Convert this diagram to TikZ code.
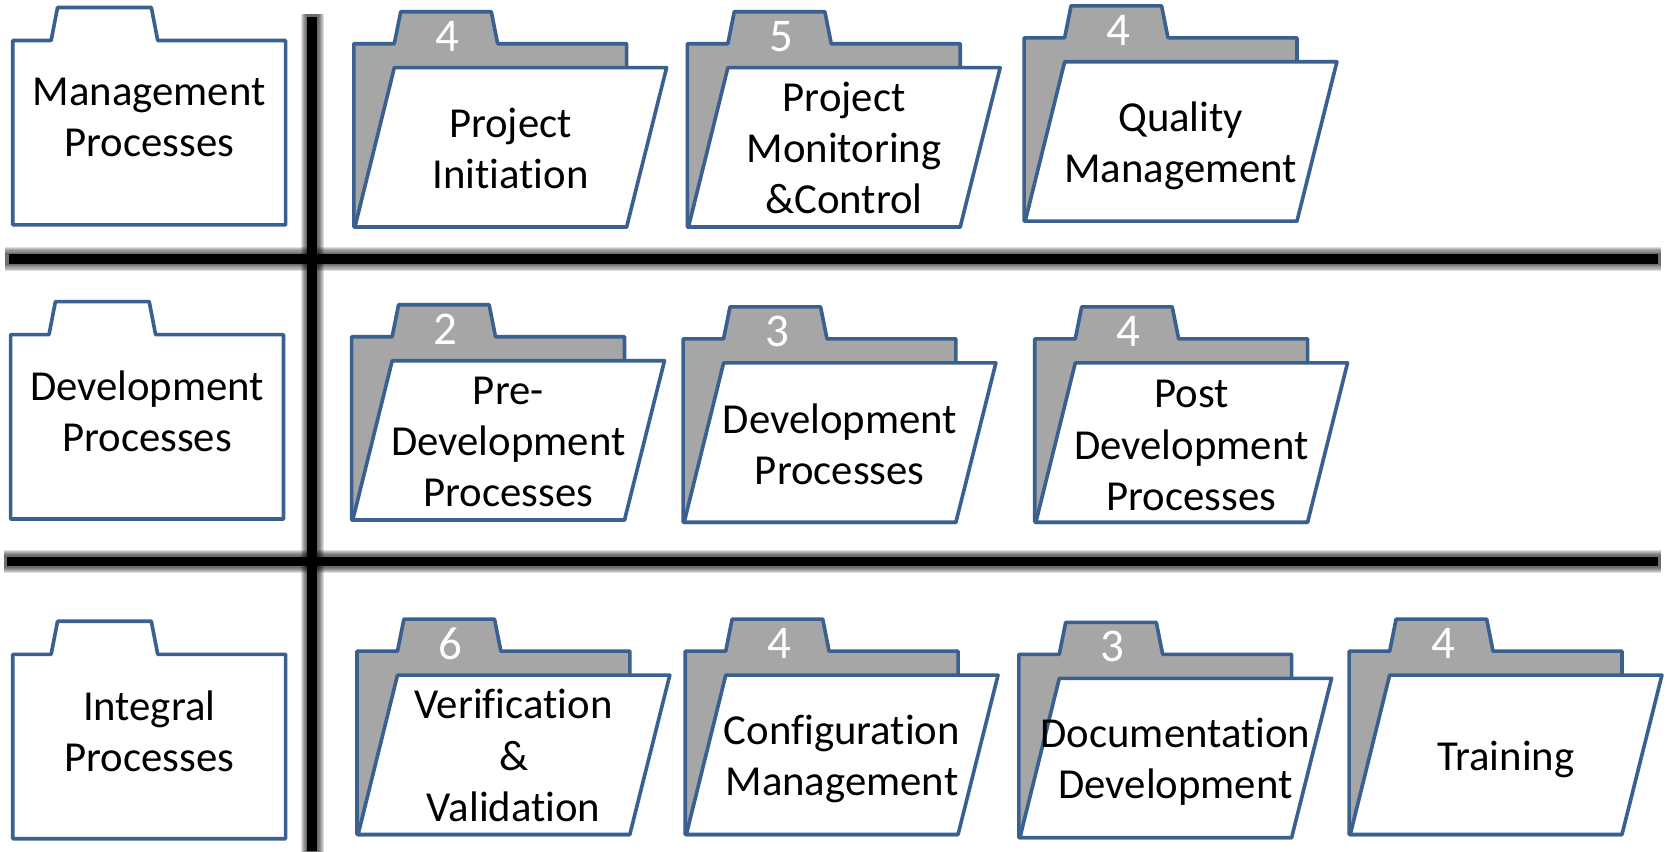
\documentclass[tikz,border=0pt]{standalone}
\usepackage{fontspec}
\setmainfont{Carlito}[Ligatures=CommonOff]
\newcommand{\lblfont}{\fontsize{40.1}{48}\selectfont}
\newcommand{\numfont}{\fontsize{44}{48}\selectfont}
\definecolor{fedge}{HTML}{3A6090}
\definecolor{fback}{HTML}{A6A6A6}
\tikzset{
  fline/.style={draw=fedge,line width=3.4pt,line join=round},
  lbl/.style={font=\lblfont,align=center,text=black,inner sep=0pt},
  numlbl/.style={font=\numfont,text=white,inner sep=0pt},
  bar/.style={line width=9pt,draw=black},
  barglow/.style={draw=black,opacity=0.13},
}
% open folder: name, left, top of body, number, text, text-centre y offset
\newcommand{\openfolder}[6]{%
  \begin{scope}[shift={(#2,#3)}]
    \path[fline,fill=fback] (0,172) -- (0,0) -- (38,0) -- (44,-30) -- (129,-30) -- (135,0) -- (256,0) -- (256,172) -- cycle;
    \path[fline,fill=white] (1,172) -- (38,22.5) -- (293.5,22.5) -- (256,172) -- cycle;
    \node[numlbl] (#1n) at (88,-7) {#4};
    \node[lbl] (#1t) at (147,#6) {#5};
  \end{scope}}
% closed folder: name, left, top of body, text
\newcommand{\closedfolder}[4]{%
  \begin{scope}[shift={(#2,#3)}]
    \path[fline,fill=white] (0,173) -- (0,0) -- (36,0) -- (42,-31) -- (130,-31) -- (136,0) -- (256,0) -- (256,173) -- cycle;
    \node[lbl] (#1t) at (128,72) {#4};
  \end{scope}}
\begin{document}
\begin{tikzpicture}[x=1pt,y=-1pt]
\useasboundingbox (0,0) rectangle (1568,799);
\fill[white] (0,0) rectangle (1568,799);
% bars with soft shadow
\coordinate (vt) at (293,16);
\coordinate (vb) at (293,799);
\coordinate (h1l) at (8,243);
\coordinate (h1r) at (1556,243);
\coordinate (h2l) at (7,527);
\coordinate (h2r) at (1556,527);
\foreach \w in {22,20,18,16,14,12}{
  \draw[barglow,line width=\w pt,shorten >=-3pt,shorten <=-3pt] (vt) -- (vb);
  \draw[barglow,line width=\w pt,shorten >=-3pt,shorten <=-3pt] (h1l) -- (h1r);
  \draw[barglow,line width=\w pt,shorten >=-3pt,shorten <=-3pt] (h2l) -- (h2r);
}
\draw[bar] (vt) -- (vb);
\draw[bar] (h1l) -- (h1r);
\draw[bar] (h2l) -- (h2r);
% closed folders
\closedfolder{mgmt}{12}{38}{Management\\Processes}
\closedfolder{dev}{10}{314}{Development\\Processes}
\closedfolder{integ}{12}{614}{Integral\\Processes}
% open folders
\openfolder{pi}{332}{41}{4}{Project\\Initiation}{98}
\openfolder{pm}{645}{41}{5}{Project\\Monitoring\\\&Control}{98}
\openfolder{qm}{961}{35.5}{4}{Quality\\Management}{101.5}
\openfolder{pd}{330}{316}{2}{Pre-\\Development\\Processes}{99}
\openfolder{dp}{641}{318}{3}{Development\\Processes}{99}
\openfolder{po}{971}{318}{4}{Post\\Development\\Processes}{100}
\openfolder{vv}{335}{611}{6}{Verification\\\&\\Validation}{98}
\openfolder{cm}{643}{611}{4}{Configuration\\Management}{101}
\openfolder{dd}{956}{614}{3}{Documentation\\Development}{101}
\openfolder{tr}{1266}{611}{4}{Training}{102}
\end{tikzpicture}
\end{document}
